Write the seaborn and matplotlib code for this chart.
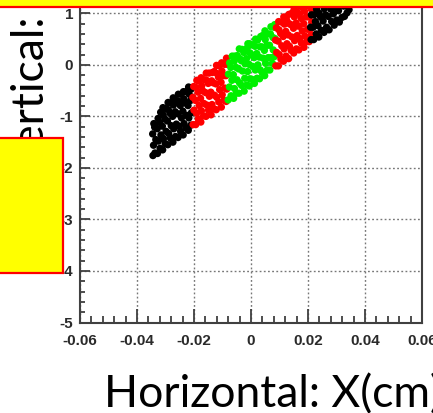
import matplotlib
matplotlib.use("Agg")
import matplotlib.pyplot as plt
from matplotlib.patches import Rectangle
from matplotlib.ticker import MultipleLocator, FixedLocator
import seaborn as sns
import pandas as pd

# ---------------- data ----------------
black_lo_x = [-0.0211, -0.0209, -0.0212, -0.0210,
              -0.0220, -0.0218, -0.0221, -0.0217, -0.0219,
              -0.0229, -0.0226, -0.0230, -0.0227,
              -0.0238, -0.0235, -0.0239, -0.0236, -0.0237,
              -0.0247, -0.0244, -0.0248, -0.0245,
              -0.0256, -0.0253, -0.0257, -0.0254, -0.0255,
              -0.0265, -0.0262, -0.0266, -0.0263,
              -0.0274, -0.0271, -0.0275, -0.0272, -0.0273,
              -0.0283, -0.0280, -0.0284, -0.0281,
              -0.0292, -0.0289, -0.0293, -0.0290, -0.0291,
              -0.0301, -0.0298, -0.0302, -0.0299,
              -0.0310, -0.0307, -0.0311, -0.0308, -0.0309,
              -0.0319, -0.0316, -0.0320, -0.0317,
              -0.0328, -0.0325, -0.0329, -0.0326,
              -0.0337, -0.0334, -0.0338,
              -0.0344, -0.0342, -0.0345, -0.0341]
black_lo_y = [-1.17, -0.93, -0.69, -0.47,
              -1.27, -1.03, -0.79, -0.57, -0.43,
              -1.22, -0.98, -0.74, -0.52,
              -1.36, -1.14, -0.90, -0.66, -0.52,
              -1.29, -1.03, -0.79, -0.57,
              -1.41, -1.19, -0.95, -0.71, -0.57,
              -1.39, -1.15, -0.91, -0.69,
              -1.50, -1.24, -1.00, -0.78, -0.64,
              -1.42, -1.18, -0.94, -0.74,
              -1.55, -1.33, -1.09, -0.87, -0.73,
              -1.53, -1.29, -1.05, -0.85,
              -1.65, -1.43, -1.19, -0.97, -0.83,
              -1.62, -1.36, -1.12, -0.92,
              -1.72, -1.48, -1.24, -1.04,
              -1.71, -1.45, -1.21,
              -1.76, -1.56, -1.34, -1.14]

red_lo_x = [-0.0203, -0.0200, -0.0204, -0.0201,
            -0.0194, -0.0191, -0.0195, -0.0192, -0.0190,
            -0.0185, -0.0182, -0.0186, -0.0183,
            -0.0176, -0.0174, -0.0177, -0.0173, -0.0175,
            -0.0167, -0.0165, -0.0168, -0.0164,
            -0.0158, -0.0155, -0.0159, -0.0156, -0.0157,
            -0.0149, -0.0146, -0.0150, -0.0147,
            -0.0140, -0.0137, -0.0141, -0.0138, -0.0136,
            -0.0131, -0.0128, -0.0132, -0.0129,
            -0.0122, -0.0120, -0.0123, -0.0119, -0.0121,
            -0.0113, -0.0110, -0.0114, -0.0111,
            -0.0104, -0.0101, -0.0105, -0.0102, -0.0103,
            -0.0095, -0.0092, -0.0096, -0.0093,
            -0.0087, -0.0085, -0.0088, -0.0084, -0.0086]
red_lo_y = [-1.16, -0.88, -0.63, -0.42,
            -1.16, -0.94, -0.69, -0.44, -0.30,
            -1.05, -0.79, -0.53, -0.31,
            -1.11, -0.89, -0.65, -0.41, -0.25,
            -0.99, -0.75, -0.51, -0.29,
            -1.00, -0.78, -0.54, -0.30, -0.16,
            -0.88, -0.61, -0.36, -0.16,
            -0.97, -0.77, -0.53, -0.31, -0.15,
            -0.85, -0.59, -0.35, -0.13,
            -0.87, -0.63, -0.37, -0.17, -0.01,
            -0.72, -0.48, -0.24, -0.02,
            -0.82, -0.58, -0.34, -0.12, 0.04,
            -0.69, -0.45, -0.21, 0.01,
            -0.71, -0.47, -0.21, 0.01, 0.13]

green_x = [-0.0080, -0.0076, -0.0079, -0.0075,
           -0.0070, -0.0067, -0.0071, -0.0066,
           -0.0061, -0.0058, -0.0062, -0.0059, -0.0057,
           -0.0051, -0.0049, -0.0052, -0.0048,
           -0.0042, -0.0040, -0.0043, -0.0039, -0.0041,
           -0.0033, -0.0030, -0.0034, -0.0031,
           -0.0024, -0.0022, -0.0021, -0.0025,
           -0.0015, -0.0012, -0.0016, -0.0013, -0.0011,
           -0.0006, -0.0004, -0.0007, -0.0003, -0.0005,
           0.0003, 0.0006, 0.0002, 0.0005,
           0.0012, 0.0015, 0.0011, 0.0014, 0.0016,
           0.0021, 0.0024, 0.0020, 0.0023,
           0.0030, 0.0033, 0.0029, 0.0032, 0.0034,
           0.0039, 0.0042, 0.0038, 0.0041,
           0.0048, 0.0051, 0.0047, 0.0050, 0.0049,
           0.0057, 0.0060, 0.0056, 0.0059,
           0.0066, 0.0069, 0.0065, 0.0068, 0.0070,
           0.0075, 0.0078, 0.0077, 0.0080,
           0.0082, 0.0084, 0.0083]
green_y = [-0.68, -0.43, -0.18, 0.04,
           -0.60, -0.30, -0.05, 0.17,
           -0.65, -0.46, -0.19, 0.07, 0.17,
           -0.55, -0.29, -0.05, 0.18,
           -0.55, -0.35, -0.08, 0.12, 0.31,
           -0.40, -0.12, 0.08, 0.30,
           -0.51, -0.26, 0.02, 0.24,
           -0.39, -0.13, 0.12, 0.33, 0.41,
           -0.41, -0.27, 0.01, 0.23, 0.41,
           -0.28, -0.03, 0.19, 0.39,
           -0.36, -0.10, 0.14, 0.36, 0.50,
           -0.26, 0.00, 0.22, 0.48,
           -0.27, -0.10, 0.15, 0.35, 0.55,
           -0.15, 0.13, 0.35, 0.57,
           -0.21, 0.03, 0.28, 0.49, 0.66,
           -0.10, 0.14, 0.38, 0.60,
           -0.10, 0.14, 0.38, 0.60, 0.74,
           0.03, 0.29, 0.53, 0.73,
           0.16, 0.51, 0.78]

red_hi_x = [0.0087, 0.0090, 0.0086, 0.0089,
            0.0096, 0.0099, 0.0095, 0.0098, 0.0097,
            0.0105, 0.0108, 0.0104, 0.0107,
            0.0114, 0.0116, 0.0113, 0.0117, 0.0115,
            0.0123, 0.0126, 0.0122, 0.0125,
            0.0132, 0.0135, 0.0131, 0.0134, 0.0133,
            0.0141, 0.0144, 0.0140, 0.0143,
            0.0150, 0.0153, 0.0149, 0.0152, 0.0151,
            0.0159, 0.0162, 0.0158, 0.0161,
            0.0168, 0.0171, 0.0167, 0.0170, 0.0169,
            0.0177, 0.0180, 0.0176, 0.0179,
            0.0186, 0.0189, 0.0185, 0.0188, 0.0187,
            0.0195, 0.0198, 0.0194, 0.0197,
            0.0204, 0.0207, 0.0203, 0.0206, 0.0205,
            0.0211, 0.0213, 0.0212, 0.0210]
red_hi_y = [-0.02, 0.24, 0.48, 0.72,
            -0.02, 0.20, 0.46, 0.68, 0.84,
            0.11, 0.37, 0.61, 0.83,
            0.07, 0.31, 0.55, 0.79, 0.93,
            0.17, 0.41, 0.65, 0.87,
            0.12, 0.36, 0.58, 0.80, 0.98,
            0.28, 0.54, 0.78, 1.00,
            0.23, 0.47, 0.71, 0.93, 1.07,
            0.31, 0.57, 0.81, 1.03,
            0.29, 0.51, 0.75, 0.99, 1.15,
            0.42, 0.66, 0.90, 1.12,
            0.34, 0.56, 0.80, 1.04, 1.20,
            0.45, 0.69, 0.93, 1.15,
            0.45, 0.69, 0.93, 1.15, 1.27,
            0.58, 0.83, 1.08, 1.28]

black_hi_x = [0.0211, 0.0209, 0.0212, 0.0210,
              0.0220, 0.0218, 0.0221, 0.0217, 0.0219,
              0.0229, 0.0226, 0.0230, 0.0227,
              0.0238, 0.0235, 0.0239, 0.0236, 0.0237,
              0.0247, 0.0244, 0.0248, 0.0245,
              0.0256, 0.0253, 0.0257, 0.0254, 0.0255,
              0.0265, 0.0262, 0.0266, 0.0263,
              0.0274, 0.0271, 0.0275, 0.0272, 0.0273,
              0.0283, 0.0280, 0.0284, 0.0281,
              0.0292, 0.0289, 0.0293, 0.0290, 0.0291,
              0.0301, 0.0298, 0.0302, 0.0299,
              0.0310, 0.0307, 0.0311, 0.0308, 0.0309,
              0.0319, 0.0316, 0.0320, 0.0317,
              0.0328, 0.0325, 0.0329, 0.0326,
              0.0337, 0.0334, 0.0338,
              0.0344, 0.0342, 0.0345, 0.0341]
black_hi_y = [0.49, 0.73, 0.97, 1.19,
              0.49, 0.73, 0.97, 1.19, 1.33,
              0.60, 0.84, 1.08, 1.30,
              0.54, 0.76, 1.00, 1.24, 1.38,
              0.67, 0.93, 1.17, 1.39,
              0.63, 0.85, 1.09, 1.33, 1.47,
              0.73, 0.97, 1.21, 1.43,
              0.68, 0.94, 1.18, 1.40, 1.54,
              0.84, 1.08, 1.32, 1.52,
              0.77, 0.99, 1.23, 1.45, 1.59,
              0.87, 1.11, 1.35, 1.55,
              0.83, 1.05, 1.29, 1.51, 1.65,
              0.92, 1.18, 1.42, 1.62,
              0.94, 1.14, 1.38, 1.58,
              1.01, 1.23, 1.47,
              1.07, 1.23, 1.41, 1.61]

x_ticks = [-0.06, -0.04, -0.02, 0.0, 0.02, 0.04, 0.06]
x_tick_labels = ["-0.06", "-0.04", "-0.02", "0", "0.02", "0.04", "0.06"]
y_ticks = [-5, -4, -3, -2, -1, 0, 1]
y_tick_labels = ["-5", "-4", "-3", "-2", "-1", "0", "1"]
xlabel_text = "Horizontal: X(cm)"
ylabel_text = "Vertical: Y(cm)"

segments = [("black", black_lo_x, black_lo_y), ("red", red_lo_x, red_lo_y),
            ("green", green_x, green_y), ("red", red_hi_x, red_hi_y),
            ("black", black_hi_x, black_hi_y)]
rows = []
for name, xs, ys in segments:
    for xv, yv in zip(xs, ys):
        rows.append({"x": xv, "y": yv, "seg": name})
df = pd.DataFrame(rows)
palette = {"black": "#000000", "red": "#ff0000", "green": "#00f000"}

# ---------------- figure ----------------
plt.rcParams["axes.unicode_minus"] = False
W, H, DPI = 433, 413, 100
fig = plt.figure(figsize=(W / DPI, H / DPI), dpi=DPI)
fig.patch.set_facecolor("white")

ax_left, ax_right = 80, 422
y_top_px, y_bot_px = -38.2, 322.5   # pixel rows (from top) of y=2 and y=-5
ax = fig.add_axes([ax_left / W, (H - y_bot_px) / H,
                   (ax_right - ax_left) / W, (y_bot_px - y_top_px) / H])

sns.scatterplot(data=df, x="x", y="y", hue="seg", palette=palette,
                s=28, linewidth=0, marker="o", legend=False, ax=ax, zorder=3)

ax.set_xlim(-0.06, 0.06)
ax.set_ylim(-5, 2)
ax.xaxis.set_major_locator(FixedLocator(x_ticks))
ax.set_xticklabels(x_tick_labels)
ax.yaxis.set_major_locator(FixedLocator(y_ticks))
ax.set_yticklabels(y_tick_labels)
ax.xaxis.set_minor_locator(MultipleLocator(0.004))
ax.yaxis.set_minor_locator(MultipleLocator(0.2))
ax.set_xlabel("")
ax.set_ylabel("")

frame_col = "#404040"
for sp in ax.spines.values():
    sp.set_color(frame_col)
    sp.set_linewidth(1.5)

ax.tick_params(axis="x", which="major", direction="in", length=10, width=1.3,
               color=frame_col, pad=8, top=False)
ax.tick_params(axis="x", which="minor", direction="in", length=5, width=1.3,
               color=frame_col, top=False)
ax.tick_params(axis="y", which="major", direction="in", length=7.5, width=1.3,
               color=frame_col, pad=5, right=False)
ax.tick_params(axis="y", which="minor", direction="in", length=3.8, width=1.3,
               color=frame_col, right=False)
for lab in ax.get_xticklabels() + ax.get_yticklabels():
    lab.set_fontfamily("Liberation Sans")
    lab.set_fontweight("bold")
    lab.set_fontsize(11)
    lab.set_color("#2a2a2a")

ax.grid(True, which="major", color="#777777", linestyle=(0, (1.3, 1.7)), linewidth=1.0)
ax.set_axisbelow(True)

# ---------------- texts ----------------
font_kw = dict(family="Lato", fontsize=32, color="black")
fig.canvas.draw()
renderer = fig.canvas.get_renderer()
tmp = fig.text(0, 0, "Vertical:", **font_kw)
w_vert = tmp.get_window_extent(renderer).width
tmp.remove()
y_start = (H - 17) - w_vert
fig.text(44 / W, y_start / H, ylabel_text, rotation=90, rotation_mode="anchor",
         ha="left", va="baseline", zorder=2, **font_kw)
fig.text(104 / W, 6 / H, xlabel_text, ha="left", va="baseline", zorder=2, **font_kw)

# ---------------- overlays ----------------
fig.add_artist(Rectangle((-10 / W, (H - 6.5) / H), (W + 20) / W, 20 / H,
                         transform=fig.transFigure, facecolor="#ffff00",
                         edgecolor="#ff0000", linewidth=1.6, zorder=10))
fig.add_artist(Rectangle((-10 / W, (H - 272.5) / H), 72.5 / W, 135 / H,
                         transform=fig.transFigure, facecolor="#ffff00",
                         edgecolor="#ff0000", linewidth=1.6, zorder=10))

fig.savefig("out.png", dpi=DPI)
